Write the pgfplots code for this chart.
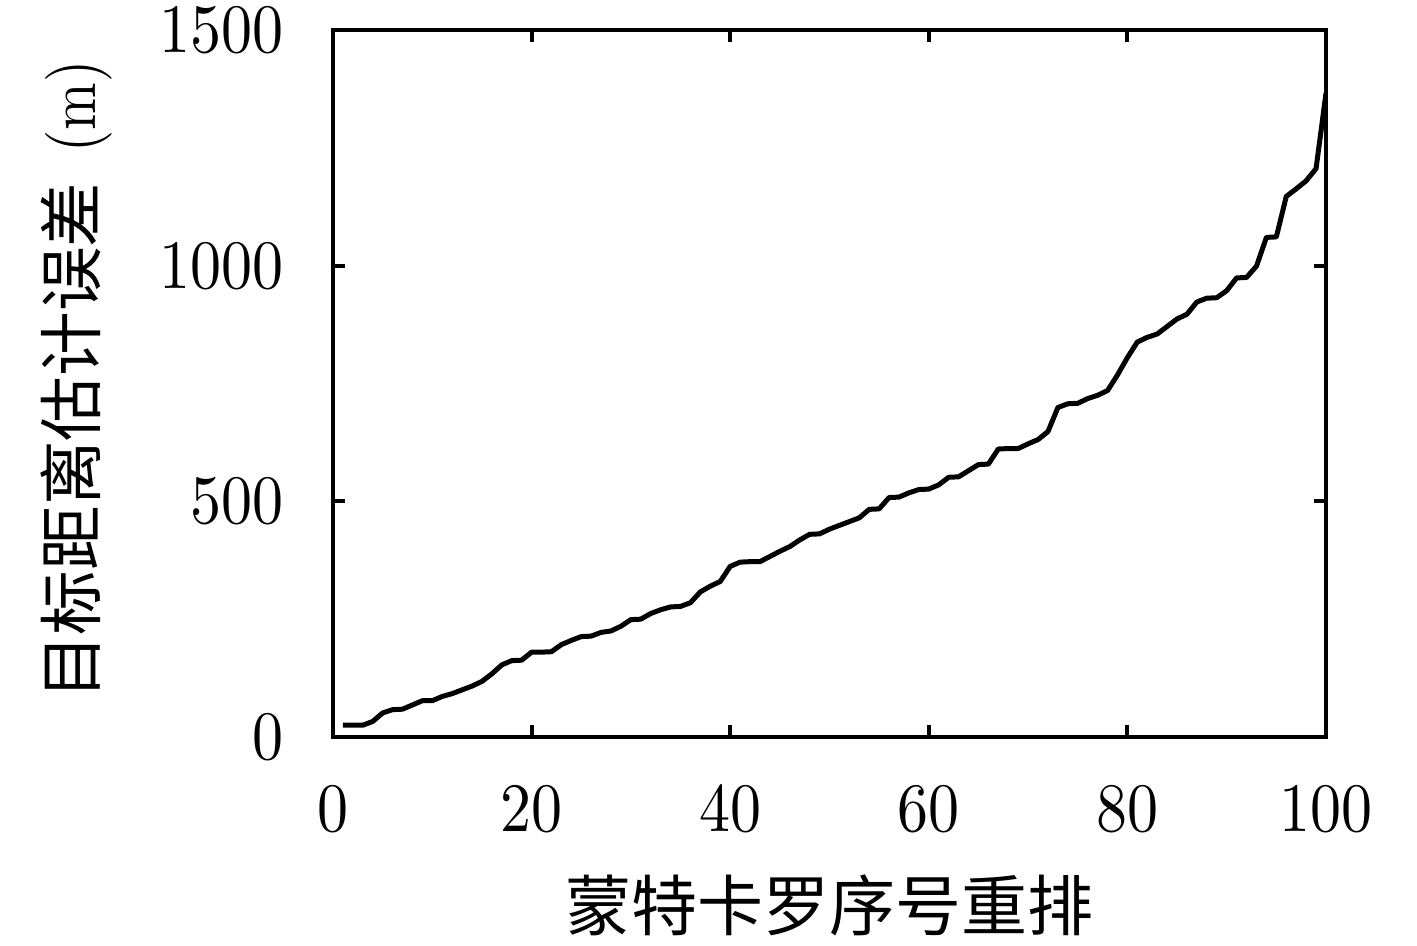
\documentclass[border=0pt]{standalone}
\usepackage{fontspec}
\usepackage{graphicx}
\usepackage{pgfplots}
\pgfplotsset{compat=1.18}
\newfontfamily\cjk{Noto Sans CJK SC}
\begin{document}
\begin{tikzpicture}
\useasboundingbox (-99.9pt,-62.4pt) rectangle (325.2pt,221.1pt);
\begin{axis}[
  at={(0,0)}, anchor=south west,
  scale only axis, width=297.9pt, height=212.1pt,
  xmin=0, xmax=100, ymin=0, ymax=1500,
  xtick={0,20,40,60,80,100},
  ytick={0,500,1000,1500},
  tick align=inside,
  major tick length=3.6pt,
  axis line style={line width=1.2pt},
  every tick/.style={line width=1.2pt, black},
  /pgf/number format/set thousands separator={},
  tick label style={font=\fontsize{10}{12}\selectfont, inner sep=0pt, xscale=1.86, yscale=2.08},
  xticklabel style={anchor=base, yshift=-13.7pt},
  yticklabel style={anchor=east, xshift=-7.74pt},
  scaled ticks=false,
  xlabel={\fontsize{19.8}{24}\selectfont\cjk 蒙特卡罗序号重排},
  ylabel={{\fontsize{19.4}{24}\selectfont\cjk 目标距离估计误差}\hspace{9pt}{\fontsize{10}{12}\selectfont\scalebox{1.71}[2.0]{(m)}}},
  xlabel style={at={(axis description cs:0.5,0)}, anchor=center, yshift=-50.4pt},
  ylabel style={at={(axis description cs:0,0.5)}, anchor=center, yshift=77pt, xshift=1pt},
]
\addplot[black, line width=1.5pt, line join=round] coordinates {
(1,25)(2,25)(3,25)(4,33)(5,51)(6,58)(7,59)(8,68)(9,77)(10,77)
(11,86)(12,92)(13,100)(14,108)(15,118)(16,134)(17,153)(18,162)(19,163)(20,180)
(21,180)(22,181)(23,196)(24,205)(25,213)(26,214)(27,222)(28,225)(29,235)(30,249)
(31,250)(32,262)(33,270)(34,276)(35,277)(36,285)(37,308)(38,320)(39,330)(40,362)
(41,371)(42,372)(43,372)(44,383)(45,394)(46,404)(47,418)(48,430)(49,431)(50,441)
(51,449)(52,457)(53,465)(54,483)(55,484)(56,508)(57,509)(58,518)(59,525)(60,526)
(61,535)(62,551)(63,552)(64,565)(65,578)(66,579)(67,611)(68,612)(69,612)(70,622)
(71,631)(72,648)(73,699)(74,707)(75,708)(76,718)(77,725)(78,735)(79,768)(80,805)
(81,838)(82,848)(83,855)(84,871)(85,887)(86,897)(87,923)(88,931)(89,932)(90,947)
(91,974)(92,975)(93,999)(94,1060)(95,1061)(96,1147)(97,1163)(98,1180)(99,1206)(100,1366)
};
\end{axis}
\end{tikzpicture}
\end{document}
